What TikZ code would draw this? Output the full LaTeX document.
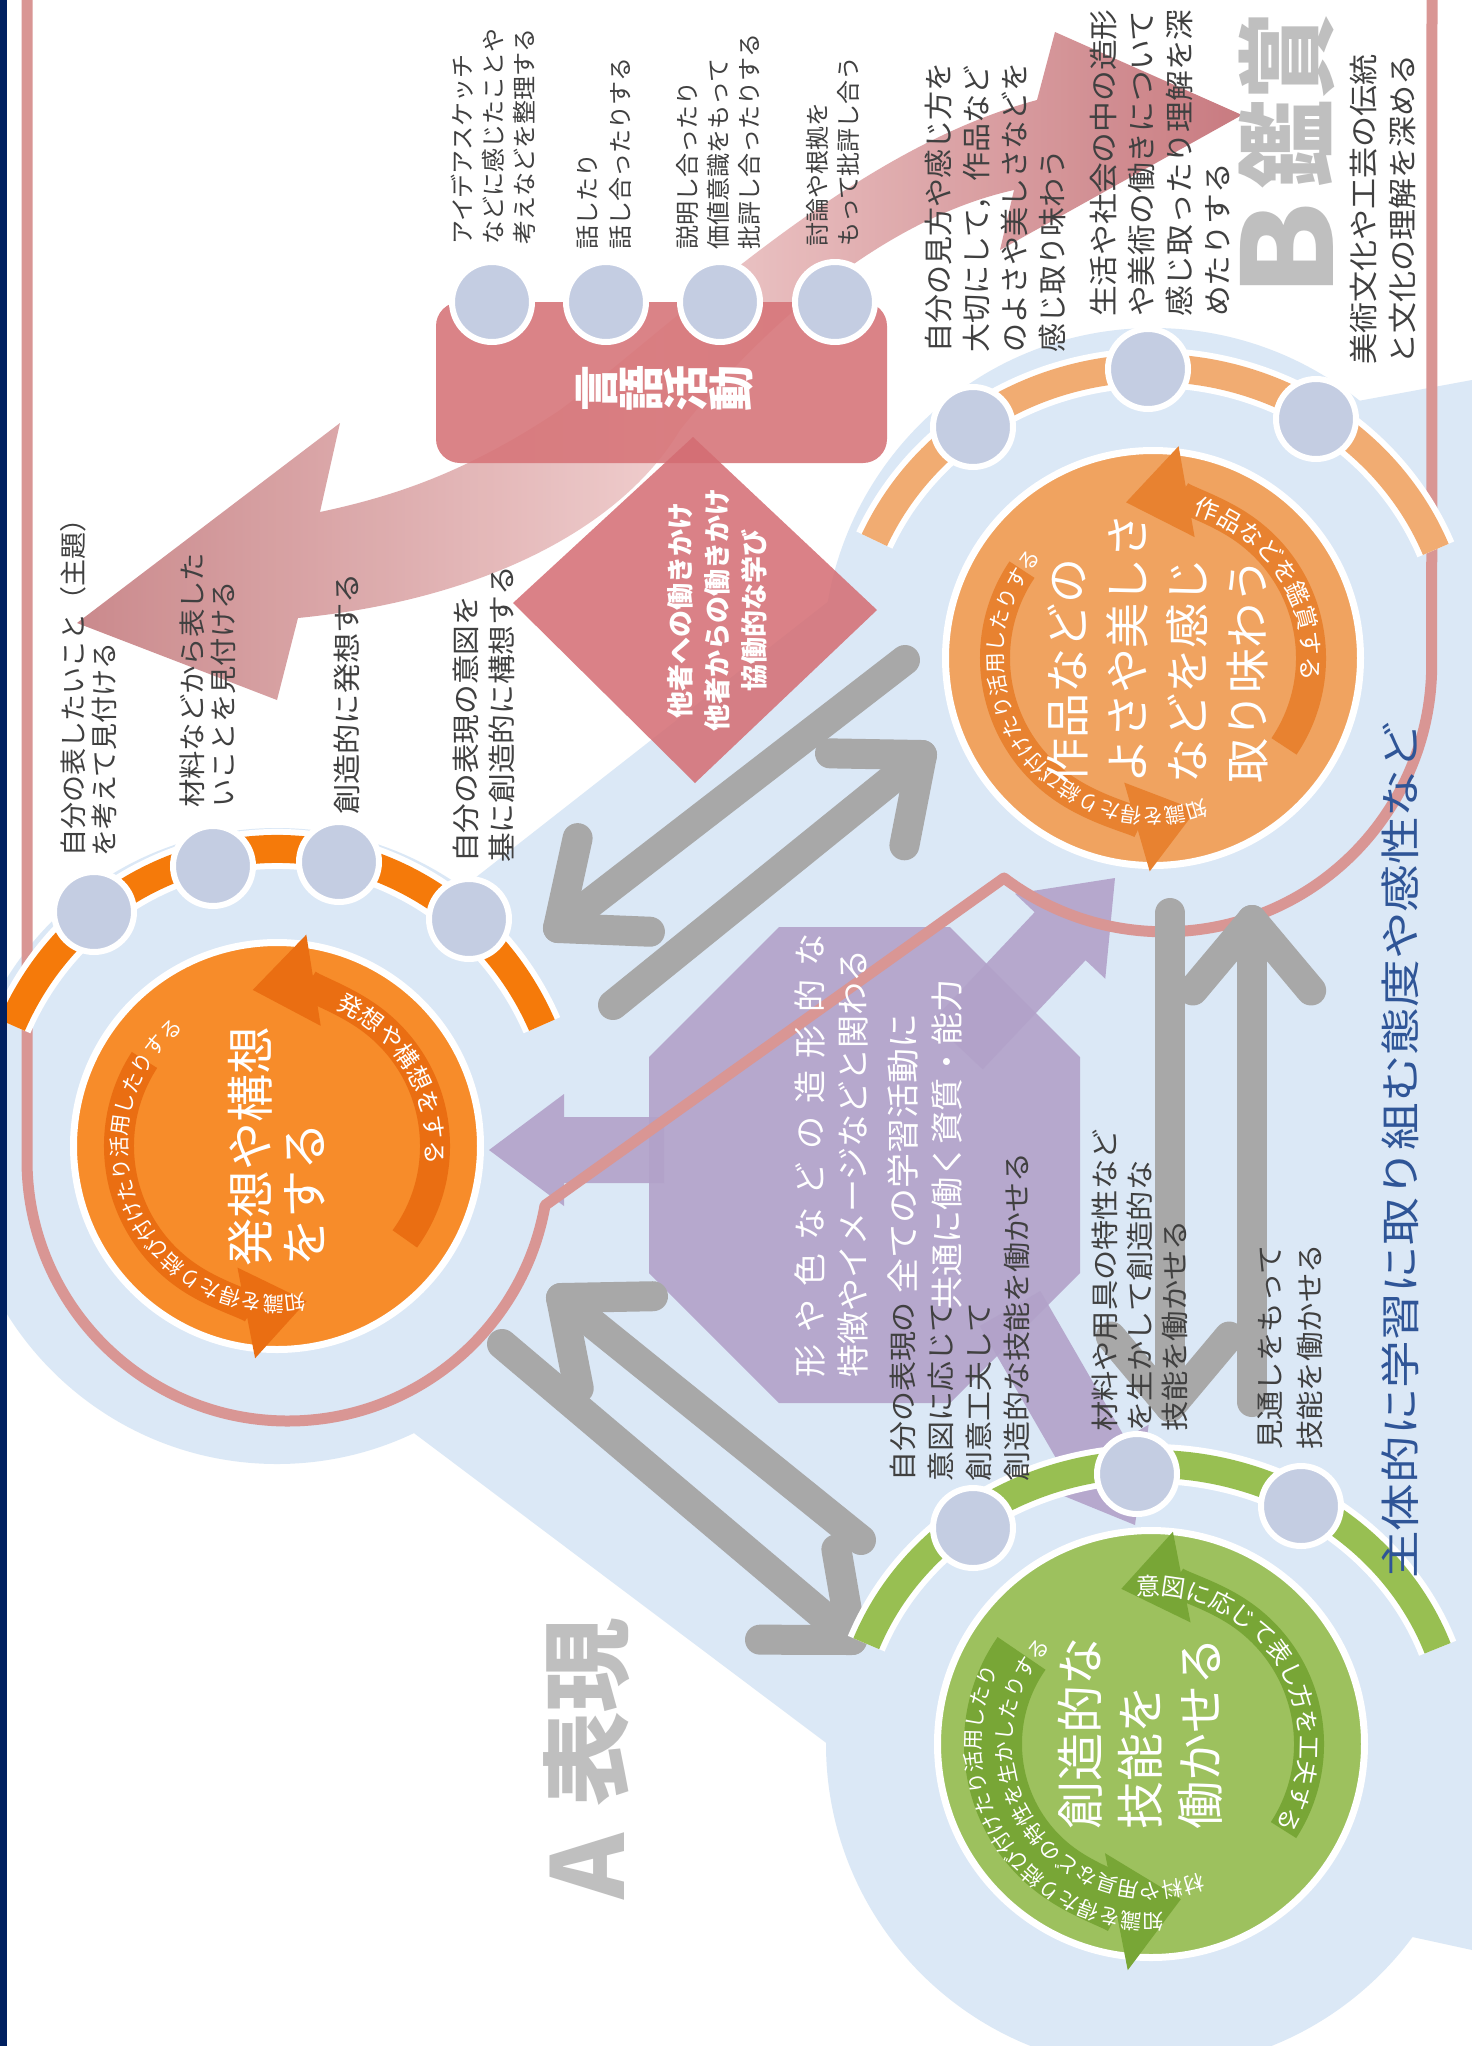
\documentclass[tikz,border=0pt]{standalone}
\usepackage{fontspec}
\setmainfont{Noto Sans CJK JP}
\usetikzlibrary{calc,decorations.text,arrows.meta}
\definecolor{navy}{RGB}{0,32,96}
\definecolor{pinkline}{RGB}{217,150,148}
\definecolor{bluebg}{RGB}{219,232,246}
\definecolor{boxpink}{RGB}{215,118,122}
\definecolor{dmpink}{RGB}{212,108,114}
\definecolor{arrL}{RGB}{198,128,131}
\definecolor{arrM}{RGB}{238,200,200}
\definecolor{arrR}{RGB}{196,112,118}
\definecolor{purp}{RGB}{178,162,201}
\definecolor{garr}{RGB}{168,168,168}
\definecolor{nodec}{RGB}{196,205,226}
\definecolor{lblc}{RGB}{64,64,64}
\definecolor{bigg}{RGB}{191,191,191}
\definecolor{bluetxt}{RGB}{47,85,151}
\definecolor{orA}{RGB}{247,140,42}
\definecolor{orAd}{RGB}{234,110,18}
\definecolor{orAb}{RGB}{245,122,10}
\definecolor{orB}{RGB}{240,163,96}
\definecolor{orBd}{RGB}{232,130,48}
\definecolor{orBb}{RGB}{241,172,114}
\definecolor{grC}{RGB}{157,193,94}
\definecolor{grCd}{RGB}{120,166,54}
\definecolor{grCb}{RGB}{152,191,82}
\newcommand\fs[2]{\fontsize{#1}{#2}\selectfont}
\tikzset{
  lbl/.style={text=lblc, rotate=90, anchor=west, align=left, inner sep=0pt},
  wtxt/.style={text=white, rotate=90, align=left, inner sep=0pt},
  sn/.style={circle, fill=nodec, draw=white, line width=6pt, minimum size=80pt, inner sep=0pt},
  garrow/.style={draw=garr, line width=30pt, line cap=round, line join=round},
  disk/.style={circle, draw=white, line width=7pt, inner sep=0pt},
  purparrow/.style={fill=purp, fill opacity=0.9},
}
\begin{document}
\begin{tikzpicture}[x=1pt,y=-1pt]
\useasboundingbox (0,0) rectangle (1472,2046);
\fill[white] (0,0) rectangle (1472,2046);
% ---------- blue background blob
\fill[bluebg] (277,1146) circle[radius=318];
\fill[bluebg] (1153,658) circle[radius=330];
\fill[bluebg] (1151,1744) circle[radius=325];
\fill[bluebg] (300,1015) -- (1000,467) -- (1472,380) -- (1472,1950) -- (950,1836) -- (350,1385) -- cycle;
% ---------- big pink double arrow
\shade[left color=arrL, right color=arrR, middle color=arrM, fill opacity=0.92]
 (77,623) -- (340,423) -- (320,512)
 .. controls (400,495) and (470,470) .. (560,410)
 .. controls (680,320) and (850,150) .. (1037,100)
 -- (1055,32) -- (1242,115) -- (1000,250) -- (1014,190)
 .. controls (880,220) and (760,330) .. (680,430)
 .. controls (620,530) and (480,600) .. (298,618)
 -- (277,700) -- cycle;
% ---------- language box and diamond
\node[fill=boxpink, fill opacity=0.9, rounded corners=24pt, minimum width=451pt, minimum height=161pt, inner sep=0pt] (box) at (661.5,382.5) {};
\fill[dmpink, fill opacity=0.85] (693,437) -- (877,610) -- (695,783) -- (513,603) -- cycle;
\coordinate (dia) at (717,610);
% ---------- purple octagon and arrows
\fill[purparrow] (649,1057) -- (779,927) -- (950,927) -- (1080,1057) -- (1080,1273) -- (950,1403) -- (779,1403) -- (649,1273) -- cycle;
\begin{scope}[shift={(489,1150)}, rotate=180]
 \fill[purparrow] (0,0) -- (-75,-56) -- (-75,-33) -- (-175,-33) -- (-175,33) -- (-75,33) -- (-75,56) -- cycle;
\end{scope}
\begin{scope}[shift={(1115,878)}, rotate=46.7]
 \fill[purparrow] (0,0) -- (-80,-62) -- (-80,-35) -- (-230,-35) -- (-230,35) -- (-80,35) -- (-80,62) -- cycle;
\end{scope}
\begin{scope}[shift={(1135,1525)}, rotate=-60]
 \fill[purparrow] (0,0) -- (-80,-62) -- (-80,-35) -- (-250,-35) -- (-250,35) -- (-80,35) -- (-80,62) -- cycle;
\end{scope}
% ---------- pink outline
\draw[pinkline, line width=11pt, line join=round] (27,-10) -- (27,1160)
  arc[start angle=180, end angle=10, radius=261] -- (1004,878)
  arc[start angle=127, end angle=0, radius=267] -- (1432,-10);
% ---------- grey arrows
\coordinate (a1s) at (613,1005); \coordinate (a1t) at (922,755);
\coordinate (a2s) at (905,660);  \coordinate (a2t) at (558,928);
\coordinate (b1s) at (502,1344); \coordinate (b1t) at (852,1640);
\coordinate (b2s) at (861,1540); \coordinate (b2t) at (561,1298);
\coordinate (c1s) at (1170,913); \coordinate (c1t) at (1170,1407);
\coordinate (c2s) at (1252,1402); \coordinate (c2t) at (1252,920);
\foreach \s/\t in {a1s/a1t,a2s/a2t,b1s/b1t,b2s/b2t,c1s/c1t,c2s/c2t}{
  \draw[garrow] (\s) -- (\t);
  \draw[garrow] ($(\t)!92pt!40:(\s)$) -- (\t) -- ($(\t)!92pt!-40:(\s)$);
}
% ================= LEFT unit
\begin{scope}[shift={(277,1146)}]
 \draw[white, line width=40pt] (-156:290 and 297) arc[start angle=-156, end angle=-24, x radius=290, y radius=297];
 \draw[orAb, line width=28pt] (-156:290 and 297) arc[start angle=-156, end angle=-24, x radius=290, y radius=297];
\end{scope}
\node[disk, fill=orA, minimum size=407pt] (dL) at (277,1146) {};
\begin{scope}[shift={(277,1146)}]
 \draw[orAd, line width=30pt, -{Triangle[width=88pt,length=62pt]}] (36:158) arc[start angle=36, end angle=-99, radius=158];
 \draw[orAd, line width=30pt, -{Triangle[width=88pt,length=62pt]}] (-147:158) arc[start angle=-147, end angle=-281, radius=158];
 \path[decorate, decoration={text along path, text align=center, text={|\fs{24}{24}\color{white}|発想や構想をする}}] (-150:149) arc[start angle=-150, end angle=90, radius=149];
 \path[decorate, decoration={text along path, text align=center, text={|\fs{21}{21}\color{white}|知識を得たり結び付けたり活用したりする}}] (35.5:150) arc[start angle=35.5, end angle=275.5, radius=150];
\end{scope}
\node[wtxt, anchor=center, font=\fs{48}{54}] (tL) at (277,1146) {発想や構想\\をする};
\node[sn] (nL1) at (94,912) {};
\node[sn] (nL2) at (213,866) {};
\node[sn] (nL3) at (339,862) {};
\node[sn] (nL4) at (469,919) {};
% ================= RIGHT unit
\begin{scope}[shift={(1153,658)}]
 \draw[white, line width=40pt] (-156:305 and 290) arc[start angle=-156, end angle=-22, x radius=305, y radius=290];
 \draw[orBb, line width=28pt] (-156:305 and 290) arc[start angle=-156, end angle=-22, x radius=305, y radius=290];
\end{scope}
\node[disk, fill=orB, minimum size=415pt] (dR) at (1153,658) {};
\begin{scope}[shift={(1153,658)}]
 \draw[orBd, line width=30pt, -{Triangle[width=88pt,length=62pt]}] (34:158) arc[start angle=34, end angle=-100, radius=158];
 \draw[orBd, line width=30pt, -{Triangle[width=88pt,length=62pt]}] (-146:158) arc[start angle=-146, end angle=-286, radius=158];
 \path[decorate, decoration={text along path, text align=center, text={|\fs{24}{24}\color{white}|作品などを鑑賞する}}] (-153:149) arc[start angle=-153, end angle=87, radius=149];
 \path[decorate, decoration={text along path, text align=center, text={|\fs{21}{21}\color{white}|知識を得たり結び付けたり活用したりする}}] (26:150) arc[start angle=26, end angle=266, radius=150];
\end{scope}
\node[wtxt, anchor=center, font=\fs{45}{60}] (tR) at (1157,648) {作品などの\\よさや美しさ\\などを感じ\\取り味わう};
\node[sn] (nR1) at (973,427) {};
\node[sn] (nR2) at (1148,369) {};
\node[sn] (nR3) at (1316,419) {};
% ================= GREEN unit
\begin{scope}[shift={(1151,1744)}]
 \draw[white, line width=40pt] (-159:305 and 280) arc[start angle=-159, end angle=-20, x radius=305, y radius=280];
 \draw[grCb, line width=28pt] (-159:305 and 280) arc[start angle=-159, end angle=-20, x radius=305, y radius=280];
\end{scope}
\node[disk, fill=grC, minimum size=427pt] (dG) at (1151,1744) {};
\begin{scope}[shift={(1151,1744)}]
 \draw[grCd, line width=30pt, -{Triangle[width=88pt,length=62pt]}] (33:158) arc[start angle=33, end angle=-101, radius=158];
 \draw[grCd, line width=58pt, -{Triangle[width=115pt,length=66pt]}] (-145:158) arc[start angle=-145, end angle=-281, radius=158];
 \path[decorate, decoration={text along path, text align=center, text={|\fs{24}{24}\color{white}|意図に応じて表し方を工夫する}}] (-151:149) arc[start angle=-151, end angle=89, radius=149];
 \path[decorate, decoration={text along path, text align=center, text={|\fs{21}{21}\color{white}|知識を得たり結び付けたり活用したり}}] (26:170) arc[start angle=26, end angle=266, radius=170];
 \path[decorate, decoration={text along path, text align=center, text={|\fs{21}{21}\color{white}|材料や用具などの特性を生かしたりする}}] (26.5:139) arc[start angle=26.5, end angle=266.5, radius=139];
\end{scope}
\node[wtxt, anchor=center, font=\fs{48}{60}] (tG) at (1140,1733) {創造的な\\技能を\\働かせる};
\node[sn] (nG1) at (973,1528) {};
\node[sn] (nG2) at (1137,1474) {};
\node[sn] (nG3) at (1301,1506) {};
% ---------- language box nodes and text
\node[sn] (nB1) at (492,302) {};
\node[sn] (nB2) at (606,302) {};
\node[sn] (nB3) at (720,302) {};
\node[sn] (nB4) at (835,302) {};
\node[text=white, rotate=90, align=center, inner sep=0pt, font=\fs{46}{45}\bfseries] (tBox) at (665,388) {言\\語\\活\\動};
\node[text=white, rotate=90, align=center, inner sep=0pt, font=\fs{27}{37}\bfseries] (tDia) at (dia) {他者への働きかけ\\他者からの働きかけ\\協働的な学び};
% ---------- octagon text
\node[wtxt, anchor=west, font=\fs{33}{33}] (o1) at (810,1378) {\makebox[444pt][s]{形\hfill や\hfill 色\hfill な\hfill ど\hfill の\hfill 造\hfill 形\hfill 的\hfill な}};
\node[wtxt, anchor=west, font=\fs{33}{33}] (o2) at (853,1378) {特徴やイメージなどと関わる};
\node[wtxt, anchor=west, font=\fs{33}{33}, xscale=1.06] (o3) at (903,1294) {全ての学習活動に};
\node[wtxt, anchor=west, font=\fs{33}{33}] (o4) at (947,1310) {共通に働く資質・能力};
% ---------- grey labels
\node[lbl, font=\fs{24}{31}] (lT1) at (493,245) {アイデアスケッチ\\などに感じたことや\\考えなどを整理する};
\node[lbl, font=\fs{24}{33}] (lT2) at (604,250) {話したり\\話し合ったりする};
\node[lbl, font=\fs{24}{31}] (lT3) at (718,250) {説明し合ったり\\価値意識をもって\\批評し合ったりする};
\node[lbl, font=\fs{24}{31}] (lT4) at (833,247) {討論や根拠を\\もって批評し合う};
\node[lbl, font=\fs{27}{31}] (lL1) at (89,857) {自分の表したいこと（主題）\\を考えて見付ける};
\node[lbl, font=\fs{27}{31}, xscale=1.05] (lL2) at (208,808) {材料などから表した\\いことを見付ける};
\node[lbl, font=\fs{28}{32}, xscale=1.08] (lL3) at (347,815) {創造的に発想する};
\node[lbl, font=\fs{28}{36}, xscale=1.06] (lL4) at (484,863) {自分の表現の意図を\\基に創造的に構想する};
\node[lbl, font=\fs{29}{38}] (lR1) at (995,353) {自分の見方や感じ方を\\大切にして，作品など\\のよさや美しさなどを\\感じ取り味わう};
\node[lbl, font=\fs{29}{38}, xscale=1.06] (lR2) at (1160,317) {生活や社会の中の造形\\や美術の働きについて\\感じ取ったり理解を深\\めたりする};
\node[lbl, font=\fs{29}{39}, xscale=1.07] (lR3) at (1383,365) {美術文化や工芸の伝統\\と文化の理解を深める};
\node[lbl, font=\fs{28}{38}, xscale=1.07] (lG1) at (960,1482) {自分の表現の\\意図に応じて\\創意工夫して\\創造的な技能を働かせる};
\node[lbl, font=\fs{28}{35}, xscale=1.08] (lG2) at (1140,1432) {材料や用具の特性など\\を生かして創造的な\\技能を働かせる};
\node[lbl, font=\fs{28}{40}, xscale=1.05] (lG3) at (1290,1450) {見通しをもって\\技能を働かせる};
% ---------- big headings
\node[text=bigg, rotate=90, inner sep=0pt, font=\fs{125}{125}\bfseries, xscale=1.1] (hB) at (1287,250) {B};
\node[text=bigg, rotate=90, inner sep=0pt, font=\fs{100}{100}\bfseries, xscale=0.88] (hB2) at (1287,100) {鑑賞};
\node[text=bigg, rotate=90, inner sep=0pt, font=\fs{100}{100}\bfseries] (hA) at (587,1866) {A};
\node[text=bigg, rotate=90, inner sep=0pt, font=\fs{90}{90}\bfseries, xscale=1.05] (hA2) at (587,1712) {表現};
\node[text=bluetxt, rotate=90, anchor=west, inner sep=0pt, font=\fs{40}{40}, xscale=1.19] (tBlue) at (1400,1579) {主体的に学習に取り組む態度や感性など};
% ---------- navy bar
\fill[navy] (0,0) rectangle (7,2046);
\end{tikzpicture}
\end{document}
